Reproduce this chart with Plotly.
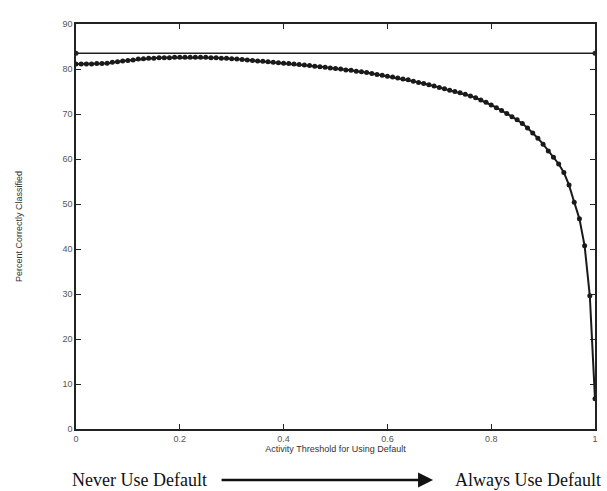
import plotly.graph_objects as go

thresholds = [round(i * 0.01, 2) for i in range(101)]
percent_correct = [
    81.1, 81.1, 81.1, 81.1, 81.2, 81.2, 81.3, 81.5, 81.6, 81.8,
    81.9, 82.0, 82.2, 82.3, 82.4, 82.4, 82.5, 82.5, 82.5, 82.6,
    82.6, 82.6, 82.6, 82.6, 82.6, 82.6, 82.5, 82.5, 82.4, 82.4,
    82.3, 82.2, 82.1, 82.0, 81.9, 81.8, 81.7, 81.6, 81.5, 81.4,
    81.3, 81.2, 81.1, 81.0, 80.9, 80.8, 80.6, 80.5, 80.4, 80.2,
    80.1, 80.0, 79.8, 79.7, 79.5, 79.4, 79.2, 79.0, 78.8, 78.6,
    78.4, 78.2, 78.0, 77.8, 77.6, 77.3, 77.0, 76.8, 76.5, 76.2,
    75.9, 75.6, 75.3, 75.0, 74.7, 74.4, 74.0, 73.6, 73.1, 72.6,
    72.0, 71.4, 70.8, 70.1, 69.4, 68.7, 67.9, 66.9, 65.8, 64.6,
    63.3, 61.8, 60.4, 58.9, 57.0, 54.2, 50.4, 46.7, 40.7, 29.6,
    6.7,
]
default_x = [0, 1]
default_y = [83.5, 83.5]

x_ticks = [0, 0.2, 0.4, 0.6, 0.8, 1]
x_tick_labels = ["0", "0.2", "0.4", "0.6", "0.8", "1"]
y_ticks = [0, 10, 20, 30, 40, 50, 60, 70, 80, 90]

fig = go.Figure()
fig.add_trace(go.Scatter(
    x=default_x, y=default_y, mode="lines+markers",
    line=dict(color="#222", width=1.5),
    marker=dict(color="#222", size=5), showlegend=False,
))
fig.add_trace(go.Scatter(
    x=thresholds, y=percent_correct, mode="lines+markers",
    line=dict(color="#1a1a1a", width=2),
    marker=dict(color="#1a1a1a", size=5), showlegend=False,
))

axis_common = dict(
    showline=True, linecolor="#222", linewidth=1.5, mirror="ticks",
    ticks="inside", ticklen=5, tickcolor="#222", showgrid=False,
    zeroline=False, tickfont=dict(family="Liberation Sans, Arial", size=9, color="#555"),
)
fig.update_xaxes(
    range=[0, 1], tickvals=x_ticks, ticktext=x_tick_labels,
    title=dict(text="Activity Threshold for Using Default",
               font=dict(family="Liberation Sans, Arial", size=9, color="#333"), standoff=2),
    **axis_common,
)
fig.update_yaxes(
    range=[0, 90], tickvals=y_ticks,
    title=dict(text="Percent Correctly Classified",
               font=dict(family="Liberation Sans, Arial", size=9, color="#333"), standoff=38),
    **axis_common,
)

serif = dict(family="Liberation Serif, Times New Roman, serif", size=18, color="#111")
fig.add_annotation(x=0.123, y=-0.126, xref="paper", yref="paper", xanchor="center", yanchor="middle",
                   text="Never Use Default", showarrow=False, font=serif)
fig.add_annotation(x=0.87, y=-0.126, xref="paper", yref="paper", xanchor="center", yanchor="middle",
                   text="Always Use Default", showarrow=False, font=serif)
fig.add_annotation(x=0.688, y=-0.126, xref="paper", yref="paper",
                   ax=-213, ay=0, text="", showarrow=True,
                   arrowhead=2, arrowsize=1.2, arrowwidth=2.5, arrowcolor="#111")

fig.update_layout(
    width=607, height=491,
    margin=dict(l=76, r=9, t=24, b=62),
    paper_bgcolor="white", plot_bgcolor="white",
)
fig.write_html("out.html")
